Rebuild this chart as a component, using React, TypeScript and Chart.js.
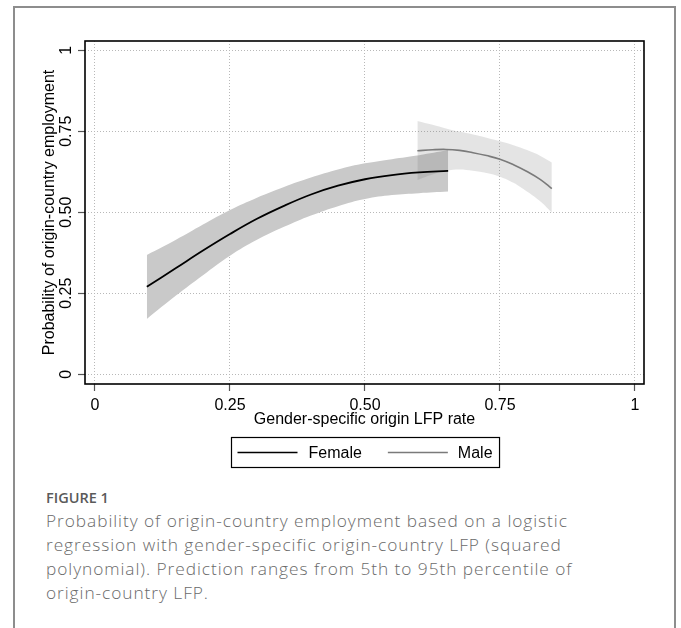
import React, { useEffect, useRef } from "react";
import { Chart, registerables } from "chart.js";

Chart.register(...registerables);

// ---- Data ----
const xTickValues = [0, 0.25, 0.5, 0.75, 1];
const xTickLabels = ["0", "0.25", "0.50", "0.75", "1"];
const yTickValues = [0, 0.25, 0.5, 0.75, 1];
const yTickLabels = ["0", "0.25", "0.50", "0.75", "1"];

const femaleX = [0.096, 0.15, 0.2, 0.25, 0.3, 0.35, 0.4, 0.45, 0.5, 0.55, 0.6, 0.654];
const femalePred = [0.27, 0.328, 0.382, 0.433, 0.48, 0.52, 0.555, 0.582, 0.602, 0.615, 0.623, 0.628];
const femaleUpper = [0.368, 0.415, 0.462, 0.507, 0.545, 0.578, 0.607, 0.632, 0.651, 0.664, 0.676, 0.692];
const femaleLower = [0.171, 0.243, 0.306, 0.366, 0.415, 0.455, 0.49, 0.519, 0.541, 0.553, 0.559, 0.564];

const maleX = [0.597, 0.625, 0.65, 0.675, 0.7, 0.725, 0.75, 0.775, 0.8, 0.825, 0.846];
const malePred = [0.69, 0.693, 0.694, 0.691, 0.684, 0.675, 0.664, 0.647, 0.626, 0.601, 0.573];
const maleUpper = [0.782, 0.77, 0.759, 0.749, 0.74, 0.73, 0.719, 0.707, 0.692, 0.674, 0.654];
const maleLower = [0.6, 0.617, 0.628, 0.632, 0.628, 0.621, 0.61, 0.591, 0.564, 0.533, 0.499];

const seriesNames = ["Female", "Male"];
const xTitle = "Gender-specific origin LFP rate";
const yTitle = "Probability of origin-country employment";

const FONT = '"Liberation Sans", Arial, Helvetica, sans-serif';

const pts = (xs: number[], ys: number[]) => xs.map((x, i) => ({ x, y: ys[i] }));

const framePlugin = {
  id: "frame",
  afterDraw(chart: any) {
    const { ctx, chartArea: a } = chart;
    ctx.save();
    ctx.strokeStyle = "#000";
    ctx.lineWidth = 1.6;
    ctx.strokeRect(a.left, a.top, a.right - a.left, a.bottom - a.top);
    ctx.restore();
  },
};

const boxLegendPlugin = {
  id: "boxLegend",
  afterDraw(chart: any) {
    const { ctx, chartArea: a } = chart;
    const ds = chart.data.datasets;
    const items = [ds[0], ds[1]];
    ctx.save();
    ctx.font = `16px ${FONT}`;
    const w0 = ctx.measureText(items[0].label).width;
    const w1 = ctx.measureText(items[1].label).width;
    const lineLen = 60;
    const total = 6 + lineLen + 11 + w0 + 26 + lineLen + 10 + w1 + 7;
    const cx = (a.left + a.right) / 2 + 1;
    const left = Math.round(cx - total / 2) + 0.5;
    const top = a.bottom + 53.5;
    const h = 30;
    ctx.strokeStyle = "#000";
    ctx.lineWidth = 1.2;
    ctx.strokeRect(left, top, total, h);
    const cy = top + h / 2;
    let x = left + 6;
    ctx.textBaseline = "middle";
    ctx.fillStyle = "#000";
    ctx.strokeStyle = items[0].borderColor;
    ctx.lineWidth = 1.6;
    ctx.beginPath();
    ctx.moveTo(x, cy);
    ctx.lineTo(x + lineLen, cy);
    ctx.stroke();
    x += lineLen + 11;
    ctx.fillText(items[0].label, x, cy + 1);
    x += w0 + 26;
    ctx.strokeStyle = items[1].borderColor;
    ctx.beginPath();
    ctx.moveTo(x, cy);
    ctx.lineTo(x + lineLen, cy);
    ctx.stroke();
    x += lineLen + 10;
    ctx.fillText(items[1].label, x, cy + 1);
    ctx.restore();
  },
};

function ChartCanvas() {
  const ref = useRef<HTMLCanvasElement | null>(null);
  useEffect(() => {
    if (!ref.current) return;
    const gridCommon = {
      color: "#b8b8b8",
      lineWidth: 1,
      tickLength: 7,
      tickColor: "#555",
      tickWidth: 1.2,
      tickBorderDash: [],
    };
    const bandCommon = {
      borderColor: "transparent",
      borderWidth: 0,
      pointRadius: 0,
      tension: 0.4,
    };
    const chart = new Chart(ref.current, {
      type: "line",
      data: {
        datasets: [
          {
            label: seriesNames[0],
            data: pts(femaleX, femalePred),
            borderColor: "#000",
            borderWidth: 1.8,
            pointRadius: 0,
            fill: false,
            tension: 0.4,
            order: 0,
          },
          {
            label: seriesNames[1],
            data: pts(maleX, malePred),
            borderColor: "#7a7a7a",
            borderWidth: 1.6,
            pointRadius: 0,
            fill: false,
            tension: 0.4,
            order: 0,
          },
          {
            label: "Female lower",
            data: pts(femaleX, femaleLower),
            ...bandCommon,
            fill: false,
            order: 3,
          },
          {
            label: "Female upper",
            data: pts(femaleX, femaleUpper),
            ...bandCommon,
            backgroundColor: "#c9c9c9",
            fill: 2,
            order: 3,
          },
          {
            label: "Male lower",
            data: pts(maleX, maleLower),
            ...bandCommon,
            fill: false,
            order: 2,
          },
          {
            label: "Male upper",
            data: pts(maleX, maleUpper),
            ...bandCommon,
            backgroundColor: "rgba(120,120,120,0.2)",
            fill: 4,
            order: 2,
          },
        ],
      },
      options: {
        responsive: false,
        animation: false,
        events: [],
        layout: { padding: { left: 0, top: 41, right: 37, bottom: 49 } },
        plugins: {
          legend: { display: false },
          tooltip: { enabled: false },
        },
        scales: {
          x: {
            type: "linear",
            min: -0.0185,
            max: 1.0167,
            afterBuildTicks: (s: any) => {
              s.ticks = xTickValues.map((v) => ({ value: v }));
            },
            afterFit: (s: any) => {
              s.height = 47;
            },
            ticks: {
              autoSkip: false,
              maxRotation: 0,
              minRotation: 0,
              padding: 5,
              color: "#000",
              font: { family: FONT, size: 16 },
              callback: (v: any) => xTickLabels[xTickValues.indexOf(Number(v))],
            },
            grid: gridCommon,
            border: { display: false, dash: [1, 2] },
            title: {
              display: true,
              text: xTitle,
              color: "#000",
              font: { family: FONT, size: 16 },
              padding: { top: 0, bottom: 2 },
            },
          },
          y: {
            type: "linear",
            min: -0.03,
            max: 1.0287,
            afterBuildTicks: (s: any) => {
              s.ticks = yTickValues.map((v) => ({ value: v }));
            },
            afterFit: (s: any) => {
              s.width = 85;
            },
            ticks: {
              autoSkip: false,
              minRotation: 90,
              maxRotation: 90,
              crossAlign: "center",
              padding: -4.6,
              color: "#000",
              font: { family: FONT, size: 16 },
              callback: (v: any) => yTickLabels[yTickValues.indexOf(Number(v))],
            },
            grid: gridCommon,
            border: { display: false, dash: [1, 2] },
            title: {
              display: true,
              text: yTitle,
              color: "#000",
              font: { family: FONT, size: 16 },
              padding: { top: 40, bottom: 0 },
            },
          },
        },
      } as any,
      plugins: [framePlugin, boxLegendPlugin],
    });
    return () => chart.destroy();
  }, []);
  return (
    <canvas
      ref={ref}
      width={681}
      height={480}
      style={{ position: "absolute", left: 0, top: 0, width: 681, height: 480 }}
    />
  );
}

export default function App() {
  return (
    <div
      style={{
        position: "absolute",
        left: 0,
        top: 0,
        width: 681,
        height: 628,
        overflow: "hidden",
        background: "#fff",
      }}
    >
      <div
        style={{
          position: "absolute",
          left: 13,
          top: 6,
          width: 659,
          height: 700,
          border: "2px solid #8d8d8d",
          borderBottom: "none",
        }}
      />
      <ChartCanvas />
      <div
        style={{
          position: "absolute",
          left: 46,
          top: 489,
          fontFamily: '"Open Sans", "Noto Sans", sans-serif',
          fontSize: 14.5,
          fontWeight: 600,
          lineHeight: "18px",
          color: "#5a5a5a",
          whiteSpace: "nowrap",
        }}
      >
        FIGURE 1
      </div>
      <div
        style={{
          position: "absolute",
          left: 46,
          top: 509,
          fontFamily: '"Open Sans", "Noto Sans", sans-serif',
          fontSize: 17.3,
          fontWeight: 300,
          letterSpacing: "0.95px",
          lineHeight: "24.1px",
          color: "#6a6a6a",
          whiteSpace: "nowrap",
        }}
      >
        Probability of origin-country employment based on a logistic
        <br />
        regression with gender-specific origin-country LFP (squared
        <br />
        polynomial). Prediction ranges from 5th to 95th percentile of
        <br />
        origin-country LFP.
      </div>
    </div>
  );
}
